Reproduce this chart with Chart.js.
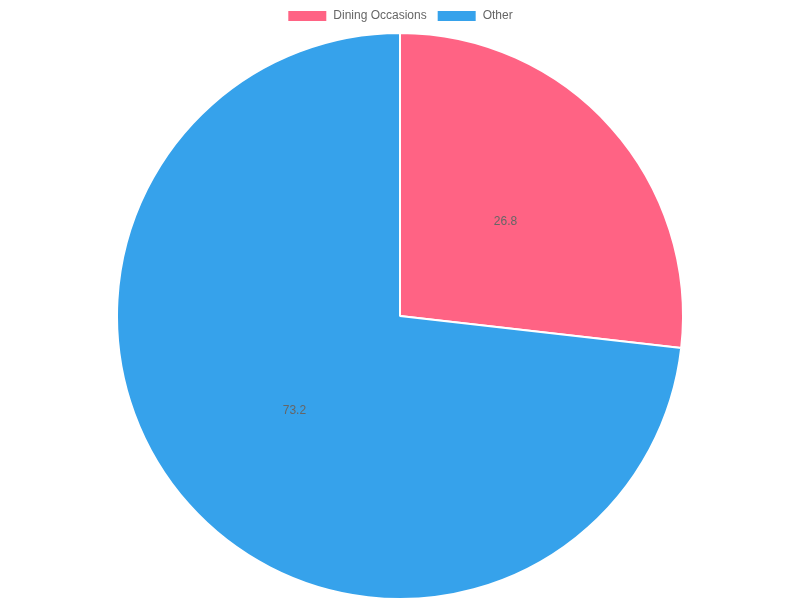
<!DOCTYPE html>
<html>
<head>
<meta charset="utf-8">
<script src="https://cdn.jsdelivr.net/npm/chart.js@4"></script>
<style>
  html, body { margin: 0; padding: 0; background: #fff; }
  #wrap { width: 800px; height: 600px; }
</style>
</head>
<body>
<div id="wrap"><canvas id="pie"></canvas></div>
<script>
var categorias = ["Dining Occasions", "Other"];
var valores = [26.8, 73.2];
var cores = ["rgb(255, 99, 132)", "rgb(54, 162, 235)"];

// escreve o valor no meio de cada fatia
var rotulos = {
  id: "rotulos",
  afterDatasetsDraw: function (chart) {
    var ctx = chart.ctx;
    var meta = chart.getDatasetMeta(0);
    ctx.save();
    ctx.font = "12px 'Liberation Sans', Arial, sans-serif";
    ctx.fillStyle = "#666";
    ctx.textAlign = "center";
    ctx.textBaseline = "middle";
    meta.data.forEach(function (arc, i) {
      var p = arc.tooltipPosition();
      ctx.fillText(String(chart.data.datasets[0].data[i]), p.x, p.y);
    });
    ctx.restore();
  }
};

Chart.defaults.font.family = "'Liberation Sans', Arial, sans-serif";
Chart.defaults.color = "#666";

new Chart(document.getElementById("pie"), {
  type: "pie",
  data: {
    labels: categorias,
    datasets: [{
      data: valores,
      backgroundColor: cores,
      borderColor: "#fff",
      borderWidth: 2
    }]
  },
  options: {
    responsive: true,
    maintainAspectRatio: false,
    animation: false,
    plugins: {
      legend: {
        display: true,
        position: "top",
        labels: { boxWidth: 40, font: { size: 12 } }
      },
      tooltip: { enabled: false }
    }
  },
  plugins: [rotulos]
});
</script>
</body>
</html>
